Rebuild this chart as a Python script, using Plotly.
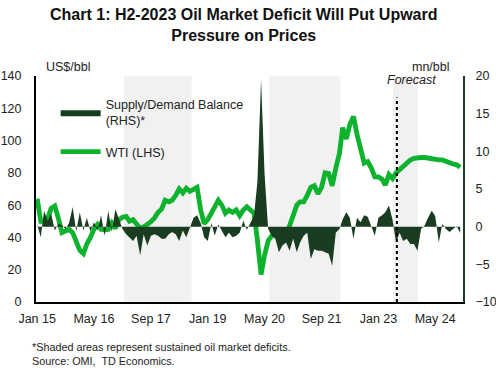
import pandas as pd
import plotly.graph_objects as go

# ---- data ----
months = pd.date_range("2015-01-01", "2024-12-01", freq="MS")

wti = [64, 50, 50, 52, 58, 59.5, 52, 43, 44, 45, 43, 37,
       32, 30, 36, 40, 45, 48, 45, 44.6, 45, 49, 45.6, 51,
       52.5, 53, 50, 51, 48, 45.5, 46.5, 48, 49.7, 52, 55.5, 57.5,
       63, 62, 63, 66, 70, 67.5, 70.5, 68.5, 70, 71, 57, 48.5,
       51, 55, 58.5, 63, 60, 55, 57, 55.5, 57, 53.5, 57, 59,
       57, 55, 38, 17, 29, 38, 41, 43, 41, 39, 41, 47,
       53, 60, 62, 62, 66, 71, 72, 67, 71, 80, 79.5, 72,
       83, 92, 108, 101, 110, 115, 104, 94, 86, 87, 83, 77.5,
       77.5, 76, 72.5, 79, 76.5, 80, 82, 84, 85.5, 88, 89, 89.5,
       89.5, 89.5, 89, 88.5, 88, 88, 88, 87, 86, 85.5, 85, 83.5]

balance = [0.3, -1.4, 2.1, 0.8, 1.7, -0.5, 0.4, 0.2, -0.3, 0.5, 2.6, -0.6,
           1.9, -0.5, 1.2, -0.6, 0.6, -0.5, 1.5, -1.2, 2.1, -0.7, 2.3, 1.0,
           -0.3, -1.0, -1.4, -1.9, -1.2, -3.8, -1.0, -2.5, -1.2, -1.0, -1.2, -1.6,
           -1.6, -1.0, -0.7, -1.0, -1.9, -0.5, -1.4, 0.0, 1.2, 1.5, 0.5, -1.4,
           -1.9, 0.5, -1.2, 0.3, -0.5, -1.4, -0.8, -1.4, -1.2, -0.8, 0.8, -0.4,
           0.5, 1.5, 6.0, 19.5, 7.0, -0.3, -1.2, -1.6, -3.4, -2.5, -2.1, -3.2,
           -1.6, -3.4, -2.1, -1.2, -0.8, -4.3, -3.0, -3.2, -3.2, -3.4, -3.6, -5.2,
           -0.8, -0.3, 1.0, 1.9, 1.2, -1.6, 1.2, 0.6, 1.5, 1.3, 0.1, -1.2,
           1.2, 1.5, 1.9, 2.8, 1.0, -2.1, -0.8, -1.9, -1.6, -2.3, -2.3, -3.2,
           -0.3, 0.2, 1.2, 2.1, 1.4, -2.1, 0.35, -0.3, -0.7, -0.3, 0.1, -0.85]

tick_dates = ["2015-01-01", "2016-05-01", "2017-09-01", "2019-01-01",
              "2020-05-01", "2021-09-01", "2023-01-01", "2024-05-01"]
tick_labels = ["Jan 15", "May 16", "Sep 17", "Jan 19",
               "May 20", "Sep 21", "Jan 23", "May 24"]

deficit_periods = [("2017-01-12", "2018-08-15"),
                   ("2020-06-12", "2022-02-10"),
                   ("2023-05-06", "2023-12-06")]
forecast_start = "2023-06-08"

DARK = "#1a3d22"
GREEN = "#0db22d"
FONT = "Arial, Liberation Sans, sans-serif"

fig = go.Figure()
fig.add_trace(go.Scatter(
    x=months, y=balance, yaxis="y2", mode="lines", fill="tozeroy",
    line=dict(width=0, color=DARK), fillcolor=DARK, legendgroup="a",
    name="Supply/Demand Balance<br>(RHS)*"))
fig.add_trace(go.Scatter(
    x=months, y=wti, yaxis="y", mode="lines", legendgroup="b",
    line=dict(width=4.8, color=GREEN), name="WTI (LHS)"))

shapes = []
for a, b in deficit_periods:
    shapes.append(dict(type="rect", xref="x", yref="paper", x0=a, x1=b,
                       y0=0, y1=1, fillcolor="#f1f1f1", line=dict(width=0),
                       layer="below"))
shapes.append(dict(type="line", xref="x", yref="paper", x0=forecast_start,
                   x1=forecast_start, y0=0, y1=0.905,
                   line=dict(color="black", width=2, dash="dot")))

W, H = 496, 370
l, r, t, b = 36, 33, 76, 68
pw, ph = W - l - r, H - t - b

def px2paper(px, py):
    return (px - l) / pw, (H - b - py) / ph

ann_specs = [
    ("<b>Chart 1: H2-2023 Oil Market Deficit Will Put Upward<br>Pressure on Prices</b>",
     244, 25, "center", 16, "#111"),
    ("US$/bbl", 68, 67, "center", 12.5, "#222"),
    ("mn/bbl", 431, 67, "center", 12.5, "#222"),
    ("<i>Forecast</i>", 411, 80, "center", 12.5, "#222"),
    ("*Shaded areas represent sustained oil market deficits.", 30, 347, "left", 10.8, "#222"),
    ("Source: OMI,  TD Economics.", 30, 361, "left", 10.8, "#222"),
]
anns = []
for text, px, py, xa, fs, col in ann_specs:
    xx, yy = px2paper(px, py)
    anns.append(dict(text=text, x=xx, y=yy, xref="paper", yref="paper",
                     xanchor=xa, yanchor="middle", showarrow=False,
                     font=dict(size=fs, color=col)))

fig.update_layout(
    width=W, height=H,
    margin=dict(l=l, r=r, t=t, b=b, autoexpand=False),
    paper_bgcolor="white", plot_bgcolor="white",
    font=dict(family=FONT, size=12.5, color="#222"),
    xaxis=dict(type="date", range=["2014-12-22", "2024-12-25"],
               tickvals=tick_dates, ticktext=tick_labels, automargin=False,
               showgrid=False, zeroline=False, showline=True,
               linecolor="black", linewidth=2, ticks="", ticklabelstandoff=4),
    yaxis=dict(range=[0, 140], dtick=20, showgrid=False, zeroline=False,
               showline=True, linecolor="black", linewidth=2, ticks="",
               ticklabelstandoff=10, automargin=False),
    yaxis2=dict(range=[-10, 20], dtick=5, overlaying="y", side="right",
                showgrid=False, zeroline=False, showline=True, automargin=False,
                linecolor=DARK, linewidth=2, ticks="", ticklabelstandoff=8),
    legend=dict(x=0.046, y=0.94, xanchor="left", yanchor="top",
                bgcolor="rgba(0,0,0,0)", font=dict(size=12.5),
                tracegroupgap=12, itemwidth=40),
    shapes=shapes,
    annotations=anns,
)

fig.write_html("out.html", config={"displayModeBar": False},
               post_script="document.body.style.margin='0';")
